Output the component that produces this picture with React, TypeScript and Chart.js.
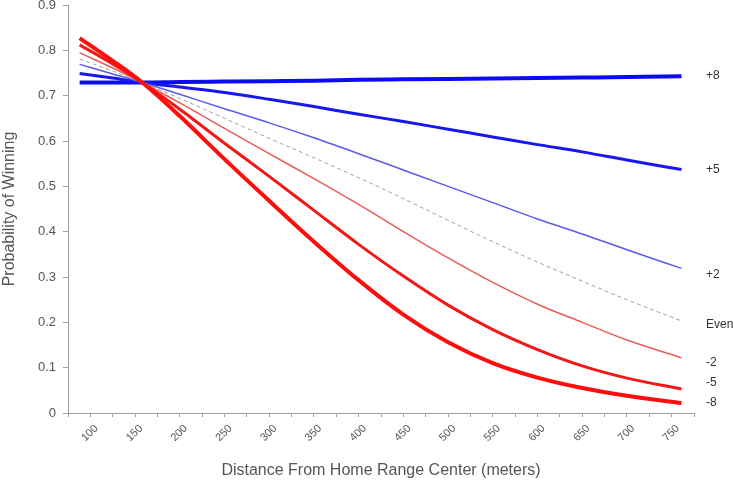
import React, { useEffect, useRef } from "react";
import { Chart, registerables } from "chart.js";

Chart.register(...registerables);

const distances = [88, 125, 158, 200, 250, 300, 350, 400, 450, 500, 550, 600, 650, 700, 761];

const seriesNames = ["-8", "-5", "-2", "Even", "+2", "+5", "+8"];
const minus8 = [0.827, 0.777, 0.729, 0.655, 0.56, 0.468, 0.378, 0.293, 0.217, 0.156, 0.11, 0.078, 0.055, 0.038, 0.022];
const minus5 = [0.812, 0.77, 0.729, 0.67, 0.595, 0.522, 0.447, 0.372, 0.302, 0.238, 0.184, 0.14, 0.104, 0.077, 0.053];
const minus2 = [0.795, 0.761, 0.729, 0.684, 0.628, 0.572, 0.517, 0.46, 0.4, 0.342, 0.288, 0.24, 0.2, 0.161, 0.122];
const even = [0.781, 0.754, 0.729, 0.694, 0.65, 0.606, 0.563, 0.519, 0.473, 0.425, 0.378, 0.333, 0.291, 0.25, 0.203];
const plus2 = [0.769, 0.748, 0.729, 0.703, 0.671, 0.64, 0.607, 0.572, 0.536, 0.5, 0.464, 0.428, 0.395, 0.36, 0.319];
const plus5 = [0.749, 0.739, 0.729, 0.719, 0.707, 0.692, 0.676, 0.659, 0.643, 0.626, 0.609, 0.592, 0.576, 0.558, 0.537];
const plus8 = [0.729, 0.729, 0.729, 0.73, 0.731, 0.732, 0.733, 0.735, 0.736, 0.737, 0.738, 0.739, 0.74, 0.741, 0.743];

// right-hand label anchors (value on y axis)
const labelTexts = ["+8", "+5", "+2", "Even", "-2", "-5", "-8"];
const labelValues = [0.744, 0.536, 0.305, 0.195, 0.111, 0.067, 0.022];

const seriesValues = [minus8, minus5, minus2, even, plus2, plus5, plus8];
const seriesColors = ["#ff0c0c", "#f21818", "#ea5a5a", "#a0a0a0", "#5a5aea", "#1818ee", "#0c0cf4"];
const seriesWidths = [4, 3, 1.5, 1, 1.5, 3, 4];

const FONT = "'Liberation Sans', Arial, sans-serif";

export default function App() {
  const ref = useRef<HTMLCanvasElement>(null);
  useEffect(() => {
    const canvas = ref.current;
    if (!canvas) return;
    const rightLabels = {
      id: "rightLabels",
      afterDraw(chart: any) {
        const { ctx, chartArea } = chart;
        const y = chart.scales.y;
        ctx.save();
        ctx.font = `12px ${FONT}`;
        ctx.fillStyle = "#333";
        ctx.textBaseline = "middle";
        ctx.textAlign = "left";
        labelTexts.forEach((t, i) => {
          ctx.fillText(t, chartArea.right + 12, y.getPixelForValue(labelValues[i]));
        });
        ctx.restore();
      },
    };
    const chart = new Chart(canvas, {
      type: "line",
      data: {
        datasets: seriesNames.map((name, i) => ({
          label: name,
          data: distances.map((d, j) => ({ x: d, y: seriesValues[i][j] })),
          borderColor: seriesColors[i],
          borderWidth: seriesWidths[i],
          borderDash: name === "Even" ? [4, 3] : [],
          pointRadius: 0,
          fill: false,
          cubicInterpolationMode: "monotone" as const,
        })),
      },
      options: {
        animation: false,
        responsive: true,
        maintainAspectRatio: false,
        layout: { padding: { left: 0, right: 39, top: 5, bottom: 0 } },
        plugins: { legend: { display: false }, tooltip: { enabled: false } },
        scales: {
          x: {
            type: "linear",
            min: 75,
            max: 775,
            border: { display: true, color: "#a0a0a0", width: 1 },
            grid: { drawOnChartArea: false, drawTicks: true, tickLength: 4, color: "#a0a0a0" },
            ticks: {
              stepSize: 25,
              autoSkip: false,
              minRotation: 45,
              maxRotation: 45,
              labelOffset: 6,
              padding: 5,
              color: "#555",
              font: { family: FONT, size: 11 },
              callback: (v: any) => (v % 50 === 0 && v >= 100 && v <= 750 ? String(v) : ""),
            },
            title: {
              display: true,
              text: "Distance From Home Range Center (meters)",
              color: "#555",
              font: { family: FONT, size: 16 },
              padding: { top: 2, bottom: 3 },
            },
            afterFit: (s: any) => {
              s.height = 70;
              s.paddingLeft = 0;
              s.paddingRight = 0;
            },
          },
          y: {
            type: "linear",
            min: 0,
            max: 0.9,
            border: { display: true, color: "#a0a0a0", width: 1 },
            grid: { drawOnChartArea: false, drawTicks: true, tickLength: 5, color: "#a0a0a0" },
            ticks: {
              stepSize: 0.1,
              padding: 7,
              color: "#555",
              font: { family: FONT, size: 13 },
              callback: (v: any) => (v === 0 ? "0" : Number(v).toFixed(1)),
            },
            title: {
              display: true,
              text: "Probability of Winning",
              color: "#555",
              font: { family: FONT, size: 16 },
              padding: { top: 0, bottom: 0 },
            },
            afterFit: (s: any) => {
              s.width = 68;
              s.paddingTop = 0;
              s.paddingBottom = 0;
            },
          },
        },
      },
      plugins: [rightLabels],
    });
    return () => chart.destroy();
  }, []);
  return (
    <div style={{ position: "fixed", left: 0, top: 0, width: 733, height: 483 }}>
      <canvas ref={ref} />
    </div>
  );
}
